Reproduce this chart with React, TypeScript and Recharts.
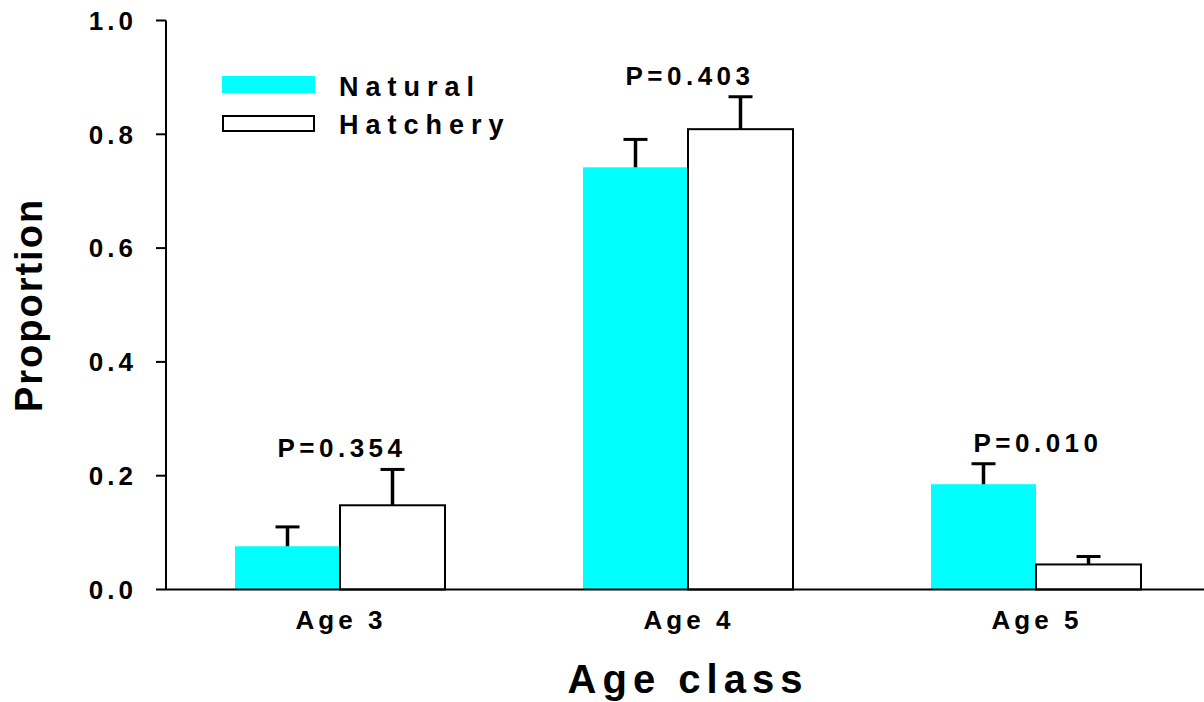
import { BarChart, Bar, XAxis, YAxis, Legend } from "recharts";

const categories = ["Age 3", "Age 4", "Age 5"];
const natural = [0.076, 0.742, 0.185];
const naturalErr = [0.11, 0.791, 0.221];
const hatchery = [0.148, 0.809, 0.044];
const hatcheryErr = [0.211, 0.866, 0.058];
const pLabels = ["P=0.354", "P=0.403", "P=0.010"];
const yTicks = [0, 0.2, 0.4, 0.6, 0.8, 1.0];
const seriesNames = ["Natural", "Hatchery"];

const data = categories.map((age, i) => ({
    age,
    natural: natural[i],
    naturalErr: naturalErr[i],
    hatchery: hatchery[i],
    hatcheryErr: hatcheryErr[i],
    p: pLabels[i],
}));

const FONT = "'Liberation Sans', Arial, Helvetica, sans-serif";

// bar + one-sided "T" error bar, scale taken from the bar itself
const barShape = (key: string, errKey: string, fill: string, stroke?: string, withP?: boolean) =>
    (props: any) => {
        const { x, y, width, height, payload } = props;
        const v = payload[key];
        const ppu = height / v;
        const base = y + height;
        const errY = base - payload[errKey] * ppu;
        const cx = x + width / 2;
        let pText = null;
        if (withP) {
            const top = Math.min(base - payload.naturalErr * ppu, base - payload.hatcheryErr * ppu);
            pText = (
                <text x={x + 2} y={top - 12} textAnchor="middle" fontFamily={FONT} fontSize={26}
                    fontWeight="bold" letterSpacing={4.5} fill="#000">
                    {payload.p}
                </text>
            );
        }
        return (
            <g>
                <rect x={x} y={y} width={width} height={height} fill={fill}
                    stroke={stroke || "none"} strokeWidth={stroke ? 2 : 0} />
                <line x1={cx} x2={cx} y1={y} y2={errY} stroke="#000" strokeWidth={3.5} />
                <line x1={cx - 12} x2={cx + 12} y1={errY} y2={errY} stroke="#000" strokeWidth={3} />
                {pText}
            </g>
        );
    };

function LegendBox() {
    return (
        <svg width={320} height={80} style={{ display: "block" }}>
            {seriesNames.map((name, i) => (
                <g key={name}>
                    {i === 0 ? (
                        <rect x={12} y={11} width={93} height={17} fill="#00ffff" />
                    ) : (
                        <rect x={13} y={51} width={91} height={15} fill="#fff" stroke="#000" strokeWidth={2} />
                    )}
                    <text x={129} y={i === 0 ? 31 : 69} fontFamily={FONT} fontSize={27}
                        fontWeight="bold" letterSpacing={7} fill="#000">
                        {name}
                    </text>
                </g>
            ))}
        </svg>
    );
}

export default function App() {
    return (
        <div style={{ position: "absolute", left: 0, top: 0, width: 1204, height: 702, overflow: "hidden", background: "#fff" }}>
            <BarChart width={1210} height={702} data={data}
                margin={{ top: 20.5, right: 0, bottom: 0, left: 0 }}
                barSize={105} barGap={0}>
                <XAxis dataKey="age" tickLine={false} tickSize={0} tickMargin={21} height={112.5}
                    axisLine={{ stroke: "#000", strokeWidth: 2 }}
                    tick={{ fill: "#000", fontSize: 26, fontWeight: "bold", fontFamily: FONT, letterSpacing: 4, dx: 1 }}
                    label={{
                        content: ({ viewBox }: any) => (
                            <text x={viewBox.x + viewBox.width / 2} y={viewBox.y + 103.5} textAnchor="middle"
                                fontFamily={FONT} fontSize={40} fontWeight="bold" letterSpacing={6} fill="#000">
                                Age class
                            </text>
                        ),
                    }} />
                <YAxis domain={[0, 1]} ticks={yTicks} width={166} tickSize={10} tickMargin={19}
                    tickFormatter={(v: number) => v.toFixed(1)}
                    axisLine={{ stroke: "#000", strokeWidth: 2 }}
                    tickLine={{ stroke: "#000", strokeWidth: 2 }}
                    tick={{ fill: "#000", fontSize: 26, fontWeight: "bold", fontFamily: FONT, letterSpacing: 4 }}
                    label={{
                        content: ({ viewBox }: any) => {
                            const cy = viewBox.y + viewBox.height / 2;
                            return (
                                <text x={42} y={cy} transform={`rotate(-90, 42, ${cy})`} textAnchor="middle"
                                    fontFamily={FONT} fontSize={38} fontWeight="bold" letterSpacing={2} fill="#000">
                                    Proportion
                                </text>
                            );
                        },
                    }} />
                <Legend layout="vertical" align="center" verticalAlign="middle"
                    wrapperStyle={{ left: 210, top: 65, width: "auto" }}
                    content={LegendBox} />
                <Bar dataKey="natural" name="Natural" fill="#00ffff" isAnimationActive={false}
                    shape={barShape("natural", "naturalErr", "#00ffff")} />
                <Bar dataKey="hatchery" name="Hatchery" fill="#ffffff" isAnimationActive={false}
                    shape={barShape("hatchery", "hatcheryErr", "#ffffff", "#000", true)} />
            </BarChart>
        </div>
    );
}
